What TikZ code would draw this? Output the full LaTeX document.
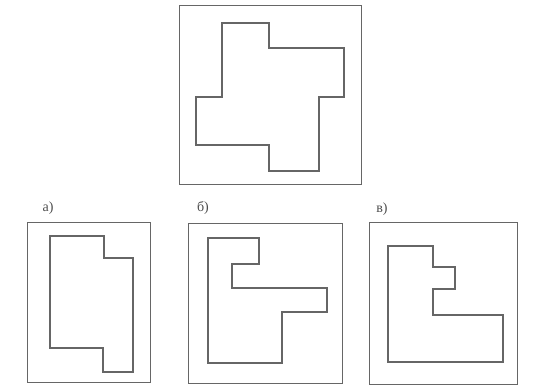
\documentclass[tikz,border=0pt]{standalone}
\usepackage{fontspec}
\setmainfont{Liberation Serif}
\usepackage{tikz}
\tikzset{panel/.style={draw=black!60, line width=0.8pt}}
\tikzset{contour/.style={draw=black!60, line width=2.6pt, line join=miter}}
\tikzset{tag/.style={anchor=base, inner sep=0pt, text=black!70, font=\fontsize{14}{16}\selectfont}}

\begin{document}
\begin{tikzpicture}[x=1pt,y=-1pt]
\useasboundingbox (0,0) rectangle (536,387);
% top figure
\draw[panel] (179,5) rectangle (361,184);
\draw[contour] (222,23) -- (269,23) -- (269,48) -- (344,48) -- (344,97) -- (319,97)
  -- (319,171) -- (269,171) -- (269,145) -- (196,145) -- (196,97) -- (222,97) -- cycle;
% a)
\node[tag] (ta) at (48,212) {а)};
\draw[panel] (27,222) rectangle (150,382);
\draw[contour] (50,236) -- (104,236) -- (104,258) -- (133,258) -- (133,372) -- (103,372)
  -- (103,348) -- (50,348) -- cycle;
% b)
\node[tag] (tb) at (203,212) {б)};
\draw[panel] (188,223) rectangle (342,383);
\draw[contour] (208,238) -- (259,238) -- (259,264) -- (232,264) -- (232,288) -- (327,288)
  -- (327,312) -- (282,312) -- (282,363) -- (208,363) -- cycle;
% v)
\node[tag] (tv) at (382,213) {в)};
\draw[panel] (369,222) rectangle (517,384);
\draw[contour] (388,246) -- (433,246) -- (433,267) -- (455,267) -- (455,289) -- (433,289)
  -- (433,315) -- (503,315) -- (503,362) -- (388,362) -- cycle;
\end{tikzpicture}
\end{document}
